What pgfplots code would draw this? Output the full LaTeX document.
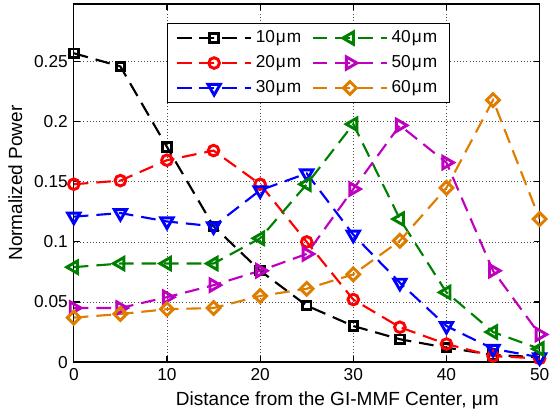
\documentclass[border=0pt]{standalone}
\usepackage{fontspec}
\setmainfont{Liberation Sans}
\usepackage{pgfplots}
\pgfplotsset{compat=1.18}
\definecolor{mgreen}{rgb}{0,0.5,0}
\definecolor{mmag}{rgb}{0.75,0,0.75}
\definecolor{morange}{rgb}{0.87,0.49,0}
\newcommand{\um}{\kern0.06em μ\kern0.06em m}
\begin{document}
\fontsize{13}{15.6}\selectfont
\begin{tikzpicture}
\begin{axis}[
  scale only axis, width=350.25pt, height=269.25pt,
  xmin=0, xmax=50, ymin=0, ymax=0.298,
  xtick={0,10,20,30,40,50}, xticklabels={0,10,20,30,40,50},
  ytick={0,0.05,0.1,0.15,0.2,0.25}, yticklabels={0,0.05,0.1,0.15,0.2,0.25},
  ticklabel style={font=\fontsize{13}{15.6}\selectfont},
  label style={font=\fontsize{14.3}{17}\selectfont},
  xlabel style={xshift=23pt},
  grid=major, major grid style={dotted, black!70, line width=0.6pt},
  axis line style={line width=1pt},
  tick style={black, line width=0.8pt}, major tick length=4.5pt, tick align=inside,
  xlabel={Distance from the GI-MMF Center, μm},
  ylabel={Normalized Power},
  every axis plot/.append style={line width=1.6pt, dash pattern=on 11pt off 6pt},
  legend image code/.code={\draw[mark repeat=2,mark phase=2,#1] plot coordinates {(0pt,0pt) (28pt,0pt) (56pt,0pt)};},
  legend style={at={(0.199,0.947)}, anchor=north west, draw=black, line width=1pt,
    font=\fontsize{13}{15.6}\selectfont, inner xsep=6.5pt, inner ysep=1.5pt,
    row sep=0pt,
    nodes={inner sep=0pt, minimum height=18.75pt, text width=37pt, align=left},
    /tikz/every odd column/.append style={column sep=2.5pt},
    /tikz/every even column/.append style={column sep=5pt}},
  legend columns=3, transpose legend,
  legend cell align=left,
]
\coordinate (sw) at (rel axis cs:0,0);
\coordinate (ne) at (rel axis cs:1,1);
\addplot[black, mark=square, mark size=3.2pt, mark options={solid, line width=2.2pt}] coordinates {
(0,0.257) (5,0.246) (10,0.179) (15,0.113) (20,0.076) (25,0.047) (30,0.030) (35,0.019) (40,0.012) (45,0.006) (50,0.004)};
\addlegendentry{10\um}
\addplot[red, mark=o, mark size=4pt, mark options={solid, line width=2.2pt}] coordinates {
(0,0.148) (5,0.151) (10,0.168) (15,0.176) (20,0.148) (25,0.100) (30,0.052) (35,0.029) (40,0.015) (45,0.005) (50,0.003)};
\addlegendentry{20\um}
\addplot[blue, mark=triangle, mark size=5.3pt, mark options={solid, line width=2.2pt, rotate=180}] coordinates {
(0,0.121) (5,0.124) (10,0.117) (15,0.113) (20,0.143) (25,0.157) (30,0.106) (35,0.066) (40,0.030) (45,0.011) (50,0.004)};
\addlegendentry{30\um}
\addplot[mgreen, mark=triangle, mark size=5.3pt, mark options={solid, line width=2.2pt, rotate=90}] coordinates {
(0,0.079) (5,0.082) (10,0.082) (15,0.082) (20,0.103) (25,0.148) (30,0.198) (35,0.119) (40,0.058) (45,0.025) (50,0.011)};
\addlegendentry{40\um}
\addplot[mmag, mark=triangle, mark size=5.3pt, mark options={solid, line width=2.2pt, rotate=-90}] coordinates {
(0,0.045) (5,0.045) (10,0.054) (15,0.064) (20,0.076) (25,0.090) (30,0.144) (35,0.197) (40,0.166) (45,0.076) (50,0.023)};
\addlegendentry{50\um}
\addplot[morange, mark=square, mark size=3.4pt, mark options={solid, line width=2.2pt, rotate=45}] coordinates {
(0,0.037) (5,0.040) (10,0.044) (15,0.045) (20,0.055) (25,0.061) (30,0.073) (35,0.101) (40,0.145) (45,0.218) (50,0.119)};
\addlegendentry{60\um}
\end{axis}
\path (sw) ++(-55.5pt,-39pt) rectangle ([shift={(10.5pt,3pt)}]ne);
\end{tikzpicture}
\end{document}
